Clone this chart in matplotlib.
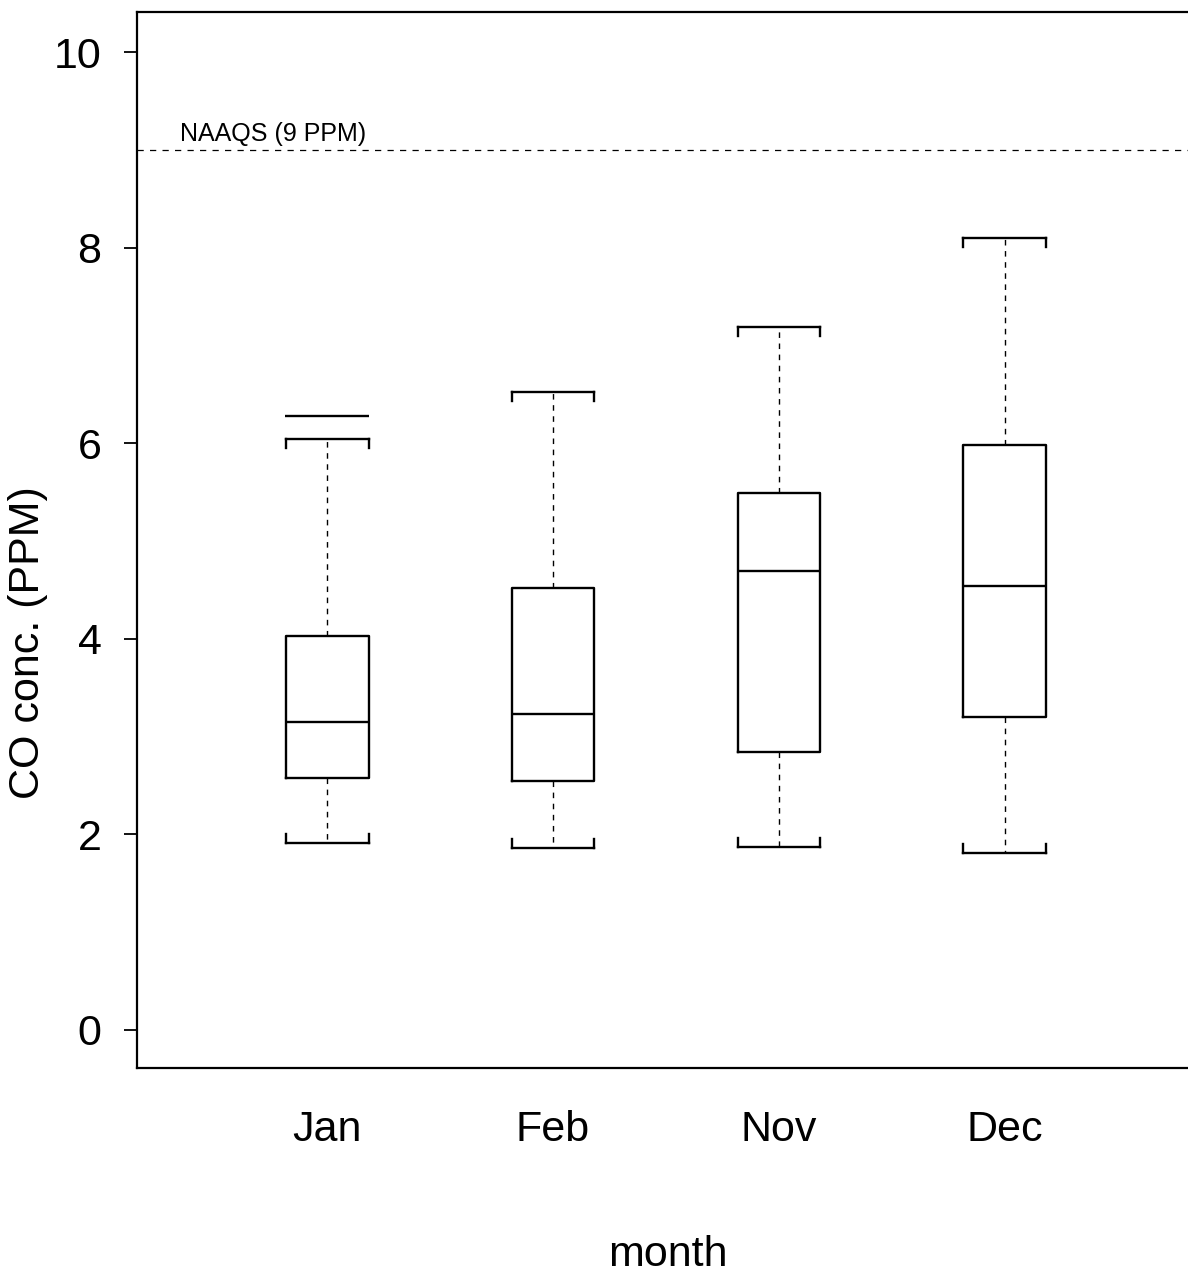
import matplotlib
matplotlib.use("Agg")
import matplotlib.pyplot as plt

months = ["Jan", "Feb", "Nov", "Dec"]
whislo = [1.91, 1.86, 1.87, 1.81]
q1 = [2.58, 2.55, 2.84, 3.20]
med = [3.15, 3.23, 4.69, 4.54]
q3 = [4.03, 4.52, 5.49, 5.98]
whishi = [6.04, 6.52, 7.19, 8.10]
outliers = [[6.28], [], [], []]
naaqs = 9.0

plt.rcParams['font.family'] = ['Liberation Sans', 'DejaVu Sans']

fig = plt.figure(figsize=(11.88, 12.81), dpi=100)
ax = fig.add_axes([137/1188, 1 - 1068/1281, (1188 - 137)/1188, (1068 - 12)/1281])

stats = []
for i, m in enumerate(months):
    stats.append(dict(label=m, whislo=whislo[i], q1=q1[i], med=med[i], q3=q3[i],
                      whishi=whishi[i], fliers=outliers[i]))

pos = list(range(1, len(months) + 1))
bw = 0.367
lw = 1.7
ax.bxp(stats, positions=pos, widths=bw, capwidths=bw, showfliers=True,
       boxprops=dict(color='black', linewidth=lw),
       medianprops=dict(color='black', linewidth=lw),
       whiskerprops=dict(color='black', linewidth=1.0, linestyle=(0, (4, 4))),
       capprops=dict(color='black', linewidth=lw),
       flierprops=dict(marker='_', markersize=60, markeredgewidth=lw,
                       markeredgecolor='black'))

# bracket ends on caps
tk = 0.09
for p, lo, hi in zip(pos, whislo, whishi):
    for xe in (p - bw/2, p + bw/2):
        ax.plot([xe, xe], [hi, hi - tk], color='black', lw=lw)
        ax.plot([xe, xe], [lo, lo + tk], color='black', lw=lw)

ax.axhline(naaqs, color='black', lw=0.9, linestyle=(0, (5, 5)))
ax.text(0.349, naaqs + 0.04, "NAAQS (9 PPM)", fontsize=18, ha='left', va='bottom')

ax.set_xlim(0.159, 4.81)
ax.set_ylim(-0.389, 10.41)
ax.set_yticks([0, 2, 4, 6, 8, 10])
ax.set_xticks(pos)
ax.set_xticklabels(months)
ax.tick_params(axis='y', length=9.5, width=1.3, pad=16, labelsize=31)
ax.tick_params(axis='x', length=0, pad=30, labelsize=31)

for s in ['left', 'top', 'bottom']:
    ax.spines[s].set_linewidth(1.6)
ax.spines['right'].set_visible(False)

ax.set_ylabel("CO conc. (PPM)", fontsize=31)
ax.yaxis.set_label_coords(-0.085, 0.403)
ax.set_xlabel("month", fontsize=31)
ax.xaxis.set_label_coords(0.505, -0.158)

fig.savefig("out.png", dpi=100)
